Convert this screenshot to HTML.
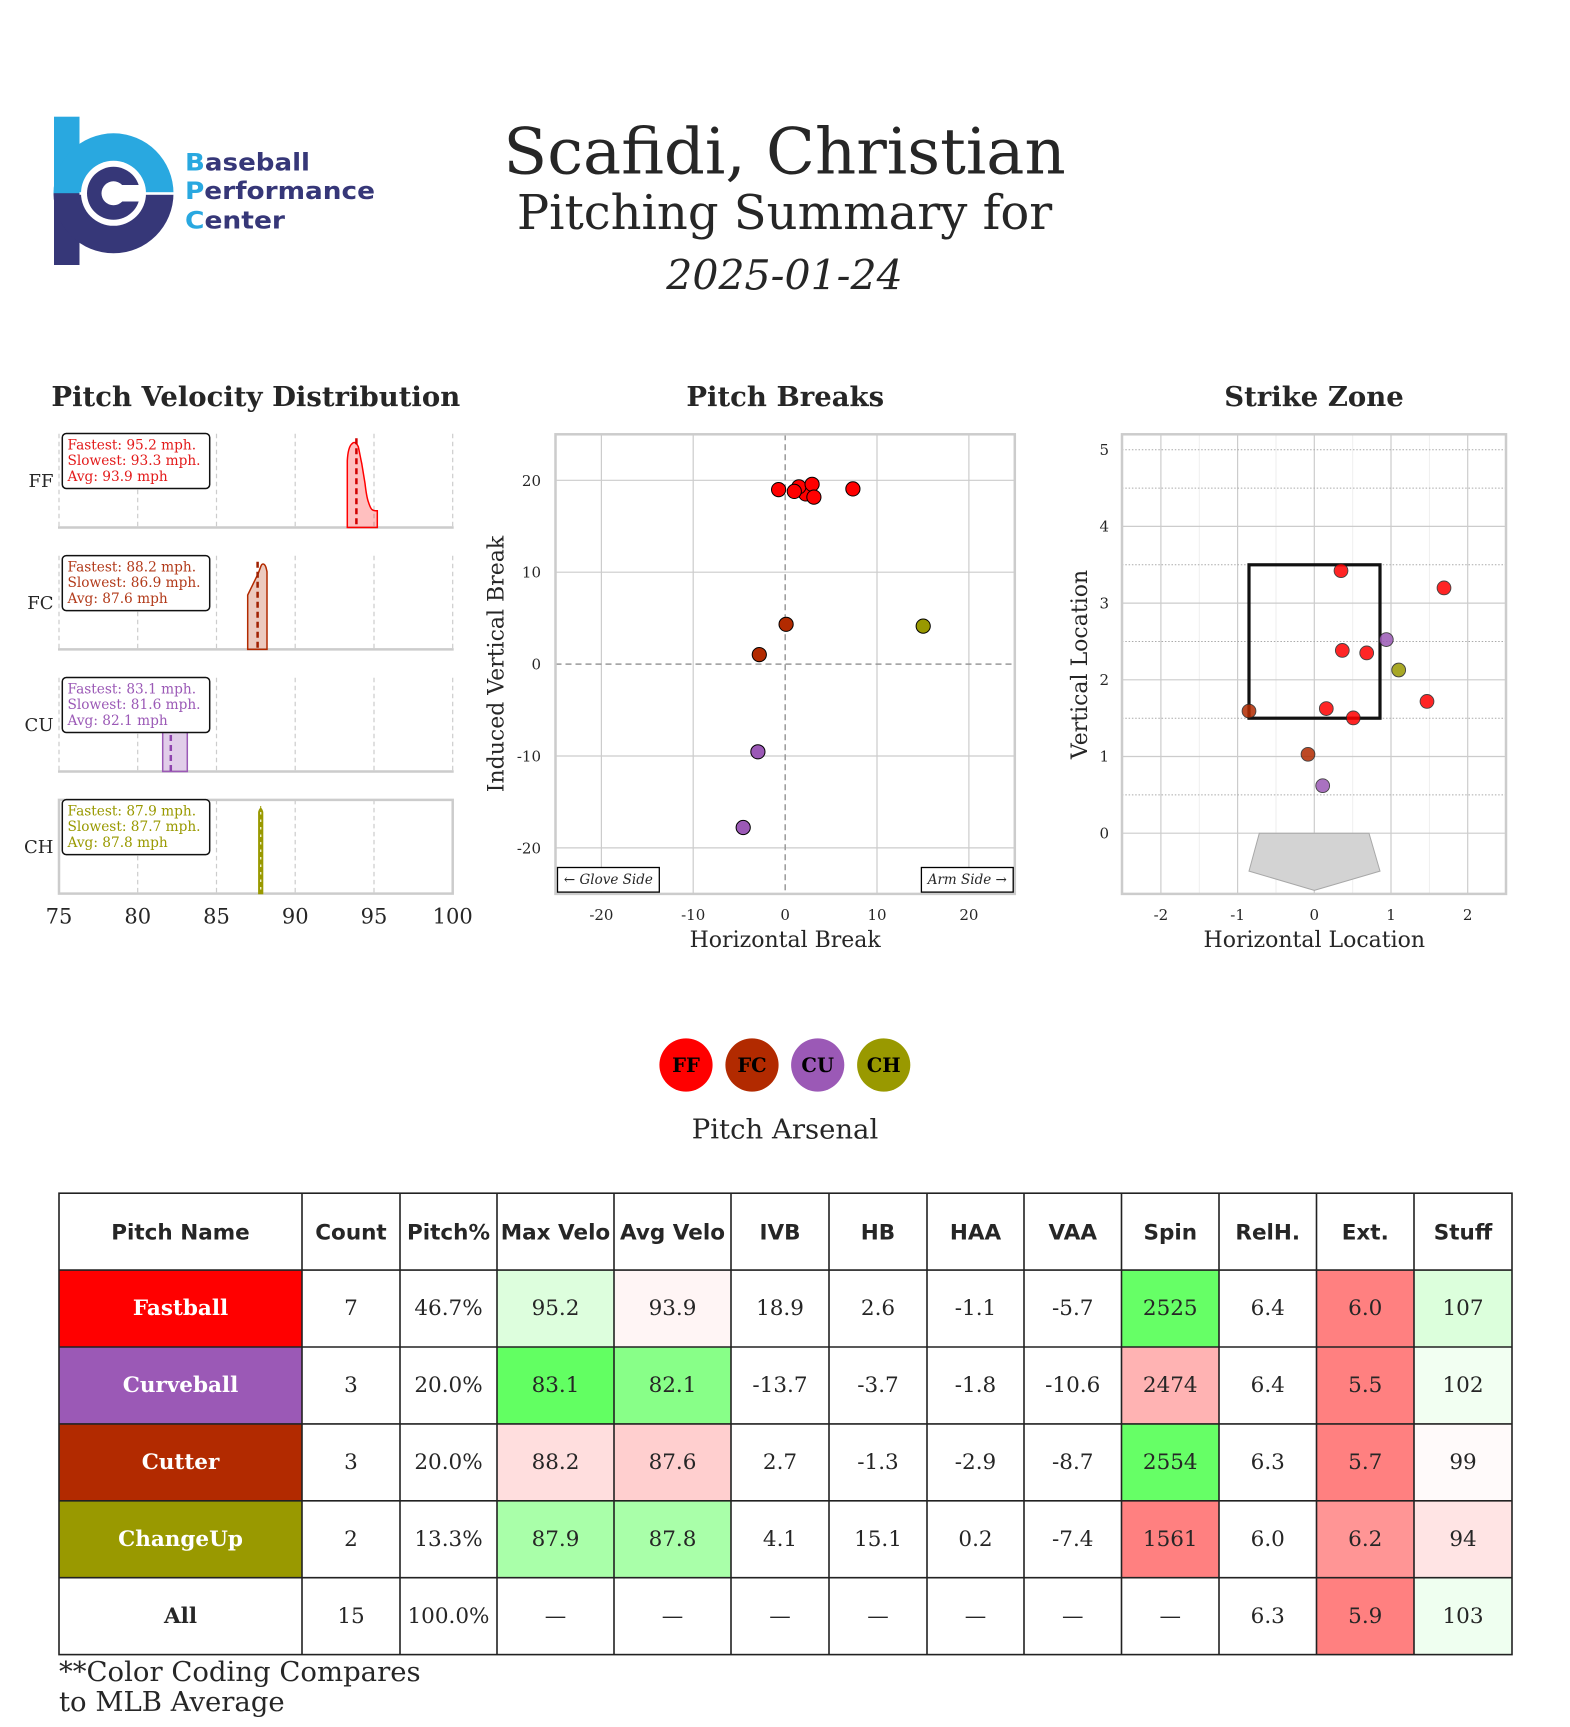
<!DOCTYPE html>
<html><head><meta charset="utf-8"><style>
html,body{margin:0;padding:0;background:#fff;}
svg{display:block;}
text{font-family:"DejaVu Serif","Liberation Serif",serif;fill:#262626;}
.sans{font-family:"DejaVu Sans","Liberation Sans",sans-serif;}
</style></head><body>
<svg xmlns="http://www.w3.org/2000/svg" width="1570" height="1727" viewBox="0 0 1570 1727">
<rect width="1570" height="1727" fill="#fff"/>

<!-- LOGO -->
<g>
<rect x="54" y="116.7" width="25.5" height="76.8" fill="#29a8e0"/>
<rect x="54" y="193.3" width="25.5" height="71.7" fill="#363778"/>
<path d="M53.5,193.3 A60,60 0 0 1 173.5,193.3 Z" fill="#29a8e0"/>
<path d="M53.5,193.3 A60,60 0 0 0 173.5,193.3 Z" fill="#363778"/>
<rect x="79.5" y="192.2" width="95" height="2.6" fill="#fff"/>
<circle cx="113.5" cy="193.3" r="32.5" fill="#fff"/>
<circle cx="113.5" cy="193.3" r="26.5" fill="#363778"/>
<circle cx="113.5" cy="193.3" r="12" fill="#fff"/>
<rect x="121" y="185" width="20" height="16.5" fill="#fff"/>
<text class="sans" x="185" y="170.7" font-size="24" font-weight="bold" textLength="125" lengthAdjust="spacingAndGlyphs" style="font-family:'DejaVu Sans','Liberation Sans',sans-serif"><tspan fill="#29a8e0">B</tspan><tspan fill="#363778">aseball</tspan></text>
<text class="sans" x="185" y="199" font-size="24" font-weight="bold" textLength="190" lengthAdjust="spacingAndGlyphs" style="font-family:'DejaVu Sans','Liberation Sans',sans-serif"><tspan fill="#29a8e0">P</tspan><tspan fill="#363778">erformance</tspan></text>
<text class="sans" x="185" y="228.3" font-size="24" font-weight="bold" textLength="100" lengthAdjust="spacingAndGlyphs" style="font-family:'DejaVu Sans','Liberation Sans',sans-serif"><tspan fill="#29a8e0">C</tspan><tspan fill="#363778">enter</tspan></text>
</g>

<!-- TITLES -->
<text x="784.5" y="173.5" font-size="64" text-anchor="middle">Scafidi, Christian</text>
<text x="784.5" y="229" font-size="48" text-anchor="middle">Pitching Summary for</text>
<text x="784.5" y="289.5" font-size="41" font-style="italic" text-anchor="middle">2025-01-24</text>

<!-- SUBPLOT TITLES -->
<text x="255.8" y="406" font-size="27.5" font-weight="bold" text-anchor="middle">Pitch Velocity Distribution</text>
<text x="785.2" y="406" font-size="27.5" font-weight="bold" text-anchor="middle">Pitch Breaks</text>
<text x="1314" y="406" font-size="27.5" font-weight="bold" text-anchor="middle">Strike Zone</text>

<!-- VELOCITY DISTRIBUTION -->
<g stroke="#cccccc" stroke-width="1.2" stroke-dasharray="4.5,3.5" fill="none">
<path d="M59,433.7V527.5M137.7,433.7V527.5M216.5,433.7V527.5M295.2,433.7V527.5M374,433.7V527.5M452.7,433.7V527.5"/>
<path d="M59,555.7V649.4M137.7,555.7V649.4M216.5,555.7V649.4M295.2,555.7V649.4M374,555.7V649.4M452.7,555.7V649.4"/>
<path d="M59,677.8V771.5M137.7,677.8V771.5M216.5,677.8V771.5M295.2,677.8V771.5M374,677.8V771.5M452.7,677.8V771.5"/>
<path d="M137.7,799.9V893.6M216.5,799.9V893.6M295.2,799.9V893.6M374,799.9V893.6"/>
</g>
<g stroke="#cccccc" stroke-width="2.5">
<line x1="58" y1="527.5" x2="453.7" y2="527.5"/>
<line x1="58" y1="649.4" x2="453.7" y2="649.4"/>
<line x1="58" y1="771.5" x2="453.7" y2="771.5"/>
</g>
<rect x="59" y="799.9" width="393.7" height="93.7" fill="none" stroke="#cccccc" stroke-width="2.5"/>

<!-- FF kde -->
<path d="M347.3,527.5 L347.3,460.7 C347.8,452 349.5,446 351.7,444 L353.3,442.7 C355,442 356.5,443 358.3,446.7 C359.5,452 360.5,458 361.7,463.3 L365,483.3 C366,492 367,498 368.3,501.7 C369.5,505.5 370.5,508 371.7,509.3 C373,510.5 374,510.7 375,510.7 L377.3,510.7 L377.3,527.5 Z" fill="rgba(255,0,0,0.25)" stroke="#ff0000" stroke-width="1.5"/>
<line x1="356.4" y1="438.3" x2="356.4" y2="527" stroke="#d00000" stroke-width="2.5" stroke-dasharray="6,4"/>
<!-- FC kde -->
<path d="M247.7,649.4 L247.7,595 L258.3,573.3 L260.7,566.7 C261.5,564.5 262.5,564 263,564 C264.5,564 265.5,566 266,567.5 L267,571.7 L267,649.4 Z" fill="rgba(178,42,0,0.25)" stroke="#b22a00" stroke-width="1.5"/>
<line x1="257.6" y1="561.7" x2="257.6" y2="649" stroke="#a02000" stroke-width="2.5" stroke-dasharray="6,4"/>
<!-- CU kde -->
<rect x="162.7" y="705" width="24.6" height="66.5" fill="rgba(155,89,182,0.3)" stroke="#9b59b6" stroke-width="1.5"/>
<line x1="170.8" y1="705" x2="170.8" y2="771" stroke="#8e44ad" stroke-width="2.5" stroke-dasharray="6,4"/>
<!-- CH kde -->
<path d="M258.7,893.6 L258.7,812 Q260.7,805 262.7,812 L262.7,893.6 Z" fill="#999900" stroke="#999900" stroke-width="1.2"/>
<line x1="260.7" y1="812" x2="260.7" y2="893" stroke="#ecedc8" stroke-width="1.4" stroke-dasharray="2.5,5"/>
<line x1="260.7" y1="806" x2="260.7" y2="809" stroke="#999900" stroke-width="1"/>

<!-- info boxes -->
<g fill="#fff" stroke="#111" stroke-width="1.5">
<rect x="62.3" y="433.5" width="147.4" height="55" rx="4"/>
<rect x="62.3" y="555.6" width="147.4" height="55" rx="4"/>
<rect x="62.3" y="677.5" width="147.4" height="55" rx="4"/>
<rect x="62.3" y="799.6" width="147.4" height="55" rx="4"/>
</g>
<g font-size="13.7">
<text x="67.5" y="449.4" fill="#e31a1a" style="fill:#e31a1a">Fastest: 95.2 mph.</text>
<text x="67.5" y="465.1" style="fill:#e31a1a">Slowest: 93.3 mph.</text>
<text x="67.5" y="480.8" style="fill:#e31a1a">Avg: 93.9 mph</text>
<text x="67.5" y="571.5" style="fill:#b23a1a">Fastest: 88.2 mph.</text>
<text x="67.5" y="587.2" style="fill:#b23a1a">Slowest: 86.9 mph.</text>
<text x="67.5" y="602.9" style="fill:#b23a1a">Avg: 87.6 mph</text>
<text x="67.5" y="693.4" style="fill:#9b59b6">Fastest: 83.1 mph.</text>
<text x="67.5" y="709.1" style="fill:#9b59b6">Slowest: 81.6 mph.</text>
<text x="67.5" y="724.8" style="fill:#9b59b6">Avg: 82.1 mph</text>
<text x="67.5" y="815.5" style="fill:#999900">Fastest: 87.9 mph.</text>
<text x="67.5" y="831.2" style="fill:#999900">Slowest: 87.7 mph.</text>
<text x="67.5" y="846.9" style="fill:#999900">Avg: 87.8 mph</text>
</g>
<g font-size="18" text-anchor="end">
<text x="53.5" y="487">FF</text>
<text x="53.5" y="609">FC</text>
<text x="53.5" y="731">CU</text>
<text x="53.5" y="853">CH</text>
</g>
<g font-size="21" text-anchor="middle">
<text x="59" y="923.5">75</text>
<text x="137.7" y="923.5">80</text>
<text x="216.5" y="923.5">85</text>
<text x="295.2" y="923.5">90</text>
<text x="374" y="923.5">95</text>
<text x="452.7" y="923.5">100</text>
</g>

<!-- PITCH BREAKS -->
<g stroke="#cccccc" stroke-width="1.2">
<path d="M601.4,434.3V893.9M693.2,434.3V893.9M877,434.3V893.9M968.9,434.3V893.9"/>
<path d="M555.5,480.3H1014.8M555.5,572.2H1014.8M555.5,756H1014.8M555.5,847.9H1014.8"/>
</g>
<g stroke="#999" stroke-width="1.5" stroke-dasharray="6,4">
<line x1="785.2" y1="434.3" x2="785.2" y2="893.9"/>
<line x1="555.5" y1="664.1" x2="1014.8" y2="664.1"/>
</g>
<rect x="555.5" y="434.3" width="459.3" height="459.6" fill="none" stroke="#cccccc" stroke-width="2.5"/>
<g stroke="#000" stroke-width="1">
<circle cx="778.6" cy="489.6" r="7.1" fill="#ff0000"/>
<circle cx="805.7" cy="493.9" r="7.1" fill="#ff0000"/>
<circle cx="798.9" cy="486.8" r="7.1" fill="#ff0000"/>
<circle cx="794.3" cy="491.4" r="7.1" fill="#ff0000"/>
<circle cx="812.1" cy="484.3" r="7.1" fill="#ff0000"/>
<circle cx="813.9" cy="497.1" r="7.1" fill="#ff0000"/>
<circle cx="852.9" cy="488.9" r="7.1" fill="#ff0000"/>
<circle cx="786.1" cy="624.3" r="7.1" fill="#b22a00"/>
<circle cx="759.3" cy="654.6" r="7.1" fill="#b22a00"/>
<circle cx="757.9" cy="751.8" r="7.1" fill="#9b59b6"/>
<circle cx="743.2" cy="827.5" r="7.1" fill="#9b59b6"/>
<circle cx="923.2" cy="626.1" r="7.1" fill="#999900"/>
</g>
<g fill="#fff" stroke="#000" stroke-width="1.3">
<rect x="557.5" y="867.5" width="101.8" height="24.6"/>
<rect x="921.4" y="867.5" width="91.8" height="24.6"/>
</g>
<g font-size="13.5" font-style="italic" text-anchor="middle">
<text x="608.4" y="884">← Glove Side</text>
<text x="967.3" y="884">Arm Side →</text>
</g>
<g font-size="15" text-anchor="end">
<text x="541" y="486">20</text>
<text x="541" y="577.7">10</text>
<text x="541" y="669.6">0</text>
<text x="541" y="761.5">-10</text>
<text x="541" y="853.4">-20</text>
</g>
<g font-size="15" text-anchor="middle">
<text x="601.4" y="920">-20</text>
<text x="693.2" y="920">-10</text>
<text x="785.2" y="920">0</text>
<text x="877" y="920">10</text>
<text x="968.9" y="920">20</text>
</g>
<text x="785.2" y="946.8" font-size="22" text-anchor="middle">Horizontal Break</text>
<text transform="translate(503.5,664) rotate(-90)" font-size="22" text-anchor="middle">Induced Vertical Break</text>

<!-- STRIKE ZONE -->
<g stroke="#ededed" stroke-width="0.9">
<path d="M1199.3,434.3V893.9M1276,434.3V893.9M1352.7,434.3V893.9M1429.4,434.3V893.9"/>
</g>
<g stroke="#cccccc" stroke-width="1.2">
<path d="M1160.9,434.3V893.9M1237.6,434.3V893.9M1314.3,434.3V893.9M1391,434.3V893.9M1467.7,434.3V893.9"/>
<path d="M1122,833.2H1506M1122,756.5H1506M1122,679.8H1506M1122,603.1H1506M1122,526.4H1506"/>
</g>
<g stroke="#aaaaaa" stroke-width="1" stroke-dasharray="1.5,1.8">
<path d="M1122,449.7H1506M1122,488.1H1506M1122,564.8H1506M1122,641.5H1506M1122,718.2H1506M1122,794.9H1506"/>
</g>
<rect x="1122" y="434.3" width="384" height="459.6" fill="none" stroke="#cccccc" stroke-width="2.5"/>
<polygon points="1259.3,833.2 1369,833.2 1380,871.1 1314.3,890.4 1249,871.1" fill="#d3d3d3" stroke="#a8a8a8" stroke-width="1"/>
<rect x="1249" y="564.8" width="131" height="153.4" fill="none" stroke="#111" stroke-width="3.2"/>
<g stroke="#222" stroke-width="0.9" opacity="0.85">
<circle cx="1341" cy="570.7" r="6.9" fill="#ff0000"/>
<circle cx="1444" cy="587.9" r="6.9" fill="#ff0000"/>
<circle cx="1342.3" cy="650.4" r="6.9" fill="#ff0000"/>
<circle cx="1366.7" cy="652.9" r="6.9" fill="#ff0000"/>
<circle cx="1427" cy="701.4" r="6.9" fill="#ff0000"/>
<circle cx="1326.3" cy="708.6" r="6.9" fill="#ff0000"/>
<circle cx="1353.3" cy="717.9" r="6.9" fill="#ff0000"/>
<circle cx="1249" cy="711.1" r="6.9" fill="#b22a00"/>
<circle cx="1308" cy="754.3" r="6.9" fill="#b22a00"/>
<circle cx="1386.3" cy="639.6" r="6.9" fill="#9b59b6"/>
<circle cx="1322.7" cy="785.7" r="6.9" fill="#9b59b6"/>
<circle cx="1398.7" cy="670" r="6.9" fill="#999900"/>
</g>
<g font-size="15" text-anchor="end">
<text x="1109" y="454.9">5</text>
<text x="1109" y="531.6">4</text>
<text x="1109" y="608.3">3</text>
<text x="1109" y="685">2</text>
<text x="1109" y="761.7">1</text>
<text x="1109" y="838.4">0</text>
</g>
<g font-size="15" text-anchor="middle">
<text x="1160.9" y="920">-2</text>
<text x="1237.6" y="920">-1</text>
<text x="1314.3" y="920">0</text>
<text x="1391" y="920">1</text>
<text x="1467.7" y="920">2</text>
</g>
<text x="1314.3" y="946.8" font-size="22" text-anchor="middle">Horizontal Location</text>
<text transform="translate(1087,664.5) rotate(-90)" font-size="22" text-anchor="middle">Vertical Location</text>

<!-- LEGEND -->
<circle cx="686" cy="1065" r="26.6" fill="#ff0000"/>
<circle cx="752" cy="1065" r="26.6" fill="#b22a00"/>
<circle cx="817.7" cy="1065" r="26.6" fill="#9b59b6"/>
<circle cx="883.7" cy="1065" r="26.6" fill="#999900"/>
<g font-size="19.5" font-weight="bold" text-anchor="middle">
<text x="686" y="1072" style="fill:#000">FF</text>
<text x="752" y="1072" style="fill:#000">FC</text>
<text x="817.7" y="1072" style="fill:#000">CU</text>
<text x="883.7" y="1072" style="fill:#000">CH</text>
</g>
<text x="785" y="1138.3" font-size="27.5" text-anchor="middle">Pitch Arsenal</text>

<!-- TABLE -->
<!-- fills -->
<g>
<rect x="59" y="1270.1" width="243" height="76.9" fill="#ff0000"/>
<rect x="59" y="1347" width="243" height="76.9" fill="#9b59b6"/>
<rect x="59" y="1423.9" width="243" height="76.9" fill="#b22a00"/>
<rect x="59" y="1500.8" width="243" height="76.9" fill="#999900"/>

<rect x="497" y="1270.1" width="117" height="76.9" fill="#ddfedd"/>
<rect x="614" y="1270.1" width="117" height="76.9" fill="#fff5f5"/>
<rect x="1121.5" y="1270.1" width="97.5" height="76.9" fill="#66ff66"/>
<rect x="1316.5" y="1270.1" width="97.5" height="76.9" fill="#ff8080"/>
<rect x="1414" y="1270.1" width="98" height="76.9" fill="#dcffdc"/>

<rect x="497" y="1347" width="117" height="76.9" fill="#62ff62"/>
<rect x="614" y="1347" width="117" height="76.9" fill="#88ff88"/>
<rect x="1121.5" y="1347" width="97.5" height="76.9" fill="#ffb3b3"/>
<rect x="1316.5" y="1347" width="97.5" height="76.9" fill="#ff8080"/>
<rect x="1414" y="1347" width="98" height="76.9" fill="#f2fff2"/>

<rect x="497" y="1423.9" width="117" height="76.9" fill="#ffdede"/>
<rect x="614" y="1423.9" width="117" height="76.9" fill="#ffcfcf"/>
<rect x="1121.5" y="1423.9" width="97.5" height="76.9" fill="#66ff66"/>
<rect x="1316.5" y="1423.9" width="97.5" height="76.9" fill="#ff8080"/>
<rect x="1414" y="1423.9" width="98" height="76.9" fill="#fffafa"/>

<rect x="497" y="1500.8" width="117" height="76.9" fill="#a9ffa9"/>
<rect x="614" y="1500.8" width="117" height="76.9" fill="#a9ffa9"/>
<rect x="1121.5" y="1500.8" width="97.5" height="76.9" fill="#ff8080"/>
<rect x="1316.5" y="1500.8" width="97.5" height="76.9" fill="#ff9595"/>
<rect x="1414" y="1500.8" width="98" height="76.9" fill="#ffe4e4"/>

<rect x="1316.5" y="1577.7" width="97.5" height="76.9" fill="#ff8080"/>
<rect x="1414" y="1577.7" width="98" height="76.9" fill="#effff0"/>
</g>
<!-- grid lines -->
<g stroke="#222" stroke-width="1.6" fill="none">
<rect x="59" y="1193.2" width="1453" height="461.4"/>
<path d="M59,1270.1H1512M59,1347H1512M59,1423.9H1512M59,1500.8H1512M59,1577.7H1512"/>
<path d="M302,1193.2V1654.6M400,1193.2V1654.6M497,1193.2V1654.6M614,1193.2V1654.6M731,1193.2V1654.6M829,1193.2V1654.6M927,1193.2V1654.6M1024,1193.2V1654.6M1121.5,1193.2V1654.6M1219,1193.2V1654.6M1316.5,1193.2V1654.6M1414,1193.2V1654.6"/>
</g>
<!-- header -->
<g class="sans" font-size="21.5" font-weight="bold" text-anchor="middle" style="font-family:'DejaVu Sans','Liberation Sans',sans-serif">
<text x="180.5" y="1239.3" style="font-family:'DejaVu Sans','Liberation Sans',sans-serif">Pitch Name</text>
<text x="351" y="1239.3" style="font-family:'DejaVu Sans','Liberation Sans',sans-serif">Count</text>
<text x="448.5" y="1239.3" style="font-family:'DejaVu Sans','Liberation Sans',sans-serif">Pitch%</text>
<text x="555.5" y="1239.3" style="font-family:'DejaVu Sans','Liberation Sans',sans-serif">Max Velo</text>
<text x="672.5" y="1239.3" style="font-family:'DejaVu Sans','Liberation Sans',sans-serif">Avg Velo</text>
<text x="780" y="1239.3" style="font-family:'DejaVu Sans','Liberation Sans',sans-serif">IVB</text>
<text x="878" y="1239.3" style="font-family:'DejaVu Sans','Liberation Sans',sans-serif">HB</text>
<text x="975.5" y="1239.3" style="font-family:'DejaVu Sans','Liberation Sans',sans-serif">HAA</text>
<text x="1072.75" y="1239.3" style="font-family:'DejaVu Sans','Liberation Sans',sans-serif">VAA</text>
<text x="1170.25" y="1239.3" style="font-family:'DejaVu Sans','Liberation Sans',sans-serif">Spin</text>
<text x="1267.75" y="1239.3" style="font-family:'DejaVu Sans','Liberation Sans',sans-serif">RelH.</text>
<text x="1365.25" y="1239.3" style="font-family:'DejaVu Sans','Liberation Sans',sans-serif">Ext.</text>
<text x="1463" y="1239.3" style="font-family:'DejaVu Sans','Liberation Sans',sans-serif">Stuff</text>
</g>
<!-- pitch names -->
<g font-size="21.5" font-weight="bold" text-anchor="middle">
<text x="180.5" y="1315" style="fill:#fff">Fastball</text>
<text x="180.5" y="1392" style="fill:#fff">Curveball</text>
<text x="180.5" y="1469" style="fill:#fff">Cutter</text>
<text x="180.5" y="1546" style="fill:#fff">ChangeUp</text>
<text x="180.5" y="1623">All</text>
</g>
<g font-size="21.5" text-anchor="middle">
<text x="351" y="1315">7</text><text x="448.5" y="1315">46.7%</text><text x="555.5" y="1315">95.2</text><text x="672.5" y="1315">93.9</text><text x="780" y="1315">18.9</text><text x="878" y="1315">2.6</text><text x="975.5" y="1315">-1.1</text><text x="1072.75" y="1315">-5.7</text><text x="1170.25" y="1315">2525</text><text x="1267.75" y="1315">6.4</text><text x="1365.25" y="1315">6.0</text><text x="1463" y="1315">107</text>

<text x="351" y="1392">3</text><text x="448.5" y="1392">20.0%</text><text x="555.5" y="1392">83.1</text><text x="672.5" y="1392">82.1</text><text x="780" y="1392">-13.7</text><text x="878" y="1392">-3.7</text><text x="975.5" y="1392">-1.8</text><text x="1072.75" y="1392">-10.6</text><text x="1170.25" y="1392">2474</text><text x="1267.75" y="1392">6.4</text><text x="1365.25" y="1392">5.5</text><text x="1463" y="1392">102</text>

<text x="351" y="1469">3</text><text x="448.5" y="1469">20.0%</text><text x="555.5" y="1469">88.2</text><text x="672.5" y="1469">87.6</text><text x="780" y="1469">2.7</text><text x="878" y="1469">-1.3</text><text x="975.5" y="1469">-2.9</text><text x="1072.75" y="1469">-8.7</text><text x="1170.25" y="1469">2554</text><text x="1267.75" y="1469">6.3</text><text x="1365.25" y="1469">5.7</text><text x="1463" y="1469">99</text>

<text x="351" y="1546">2</text><text x="448.5" y="1546">13.3%</text><text x="555.5" y="1546">87.9</text><text x="672.5" y="1546">87.8</text><text x="780" y="1546">4.1</text><text x="878" y="1546">15.1</text><text x="975.5" y="1546">0.2</text><text x="1072.75" y="1546">-7.4</text><text x="1170.25" y="1546">1561</text><text x="1267.75" y="1546">6.0</text><text x="1365.25" y="1546">6.2</text><text x="1463" y="1546">94</text>

<text x="351" y="1623">15</text><text x="448.5" y="1623">100.0%</text><text x="555.5" y="1623">—</text><text x="672.5" y="1623">—</text><text x="780" y="1623">—</text><text x="878" y="1623">—</text><text x="975.5" y="1623">—</text><text x="1072.75" y="1623">—</text><text x="1170.25" y="1623">—</text><text x="1267.75" y="1623">6.3</text><text x="1365.25" y="1623">5.9</text><text x="1463" y="1623">103</text>
</g>

<!-- footnote -->
<text x="59" y="1681" font-size="27.5">**Color Coding Compares</text>
<text x="59" y="1711" font-size="27.5">to MLB Average</text>
</svg>
</body></html>
